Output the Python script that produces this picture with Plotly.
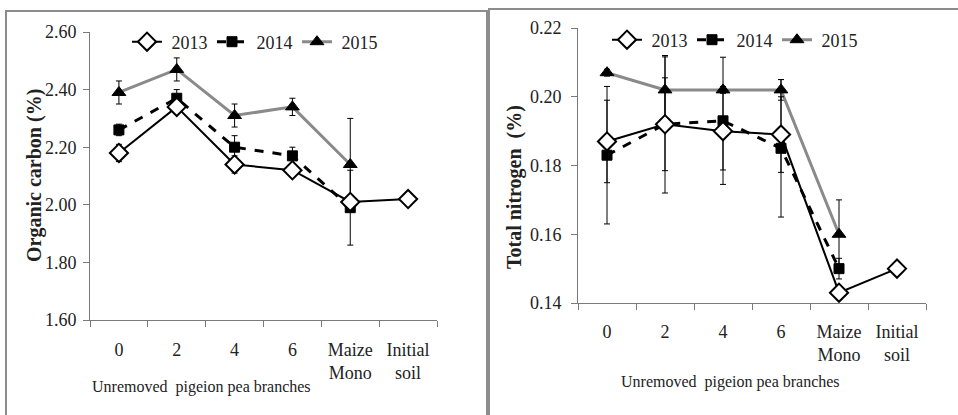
import plotly.graph_objects as go

categories = ["0", "2", "4", "6", "Maize<br>Mono", "Initial<br>soil"]
years = ["2013", "2014", "2015"]

# Organic carbon (%)
oc_2013 = [2.18, 2.34, 2.14, 2.12, 2.01, 2.02]
oc_2013_err = [0.03, 0.02, 0.03, 0.02, 0.02, 0.0]
oc_2014 = [2.26, 2.37, 2.20, 2.17, 1.99]
oc_2014_err = [0.02, 0.03, 0.04, 0.03, 0.13]
oc_2015 = [2.39, 2.47, 2.31, 2.34, 2.14]
oc_2015_err = [0.04, 0.04, 0.04, 0.03, 0.16]

# Total nitrogen (%)
tn_2013 = [0.187, 0.192, 0.190, 0.189, 0.143, 0.150]
tn_2013_err = [0.012, 0.0135, 0.0113, 0.011, 0.002, 0.0]
tn_2014 = [0.183, 0.192, 0.193, 0.185, 0.150]
tn_2014_err = [0.020, 0.020, 0.0185, 0.020, 0.003]
tn_2015 = [0.207, 0.202, 0.202, 0.202, 0.160]
tn_2015_err = [0.001, 0.0096, 0.001, 0.003, 0.010]

W, H = 958, 415
FONT = "Liberation Serif, Tinos, Times New Roman, Times, DejaVu Serif, serif"

def px(x):
    return x / W

def py(y):
    return 1 - y / H

styles = {
    "2013": dict(line=dict(color="black", width=2, dash="solid"),
                 marker=dict(symbol="diamond", size=14, color="white",
                             line=dict(color="black", width=2))),
    "2014": dict(line=dict(color="black", width=3, dash="dash"),
                 marker=dict(symbol="square", size=10, color="black",
                             line=dict(color="black", width=1))),
    "2015": dict(line=dict(color="#8a8a8a", width=3, dash="solid"),
                 marker=dict(symbol="triangle-up", size=12, color="black",
                             line=dict(color="black", width=1))),
}

fig = go.Figure()

def add(y, err, name, xa, ya, legend):
    st = styles[name]
    fig.add_trace(go.Scatter(
        x=categories[:len(y)], y=y, name="\u00a0" + name, mode="lines+markers",
        line=st["line"], marker=st["marker"],
        error_y=dict(type="data", array=err, visible=True, color="black",
                     thickness=1, width=3),
        xaxis=xa, yaxis=ya, legend=legend, cliponaxis=False))

add(oc_2015, oc_2015_err, "2015", "x", "y", "legend")
add(oc_2014, oc_2014_err, "2014", "x", "y", "legend")
add(oc_2013, oc_2013_err, "2013", "x", "y", "legend")
add(tn_2015, tn_2015_err, "2015", "x2", "y2", "legend2")
add(tn_2014, tn_2014_err, "2014", "x2", "y2", "legend2")
add(tn_2013, tn_2013_err, "2013", "x2", "y2", "legend2")

axis_line = dict(showline=True, linecolor="#7a7a7a", linewidth=1,
                 showgrid=False, zeroline=False, ticks="outside",
                 tickcolor="#7a7a7a", ticklen=6, automargin=False,
                 tickfont=dict(family=FONT, size=18, color="#222"))

leg_common = dict(orientation="h", xanchor="left", yanchor="middle",
                  traceorder="reversed",
                  font=dict(family=FONT, size=18, color="#222"),
                  bgcolor="rgba(0,0,0,0)", itemwidth=30,
                  entrywidth=40, entrywidthmode="pixels")

fig.update_layout(
    width=W, height=H, margin=dict(l=0, r=0, t=0, b=0, autoexpand=False),
    paper_bgcolor="white", plot_bgcolor="white",
    xaxis=dict(domain=[px(90), px(437)], anchor="y", type="category",
               categoryorder="array", categoryarray=categories,
               range=[-0.5, 5.5], tickson="boundaries",
               ticklabelstandoff=13, **axis_line),
    yaxis=dict(domain=[py(320), py(32)], anchor="x", range=[1.60, 2.60],
               tickvals=[1.6, 1.8, 2.0, 2.2, 2.4, 2.6], tickformat=".2f",
               ticklabelstandoff=3, **axis_line),
    xaxis2=dict(domain=[px(578), px(926)], anchor="y2", type="category",
                categoryorder="array", categoryarray=categories,
                range=[-0.5, 5.5], tickson="boundaries",
                ticklabelstandoff=12, **axis_line),
    yaxis2=dict(domain=[py(303), py(28)], anchor="x2", range=[0.14, 0.22],
                tickvals=[0.14, 0.16, 0.18, 0.20, 0.22], tickformat=".2f",
                ticklabelstandoff=6, **axis_line),
    legend=dict(x=px(127), y=py(42), **leg_common),
    legend2=dict(x=px(607), y=py(40), **leg_common),
    showlegend=True,
)

# panel frames
fig.add_shape(type="rect", xref="paper", yref="paper",
              x0=px(6), x1=px(487), y0=py(430), y1=py(11),
              line=dict(color="#8c8c8c", width=2))
fig.add_shape(type="rect", xref="paper", yref="paper",
              x0=px(489), x1=px(975), y0=py(430), y1=py(9),
              line=dict(color="#8c8c8c", width=2))

ann_font = dict(family=FONT, size=16, color="#222")
fig.add_annotation(text="Unremoved  pigeion pea branches", xref="paper", yref="paper",
                   x=px(201), y=py(387), showarrow=False, font=ann_font,
                   xanchor="center", yanchor="middle")
fig.add_annotation(text="Unremoved  pigeion pea branches", xref="paper", yref="paper",
                   x=px(730), y=py(382), showarrow=False, font=ann_font,
                   xanchor="center", yanchor="middle")
fig.add_annotation(text="<b>Organic carbon (%)</b>", xref="paper", yref="paper",
                   x=px(34), y=py(176), showarrow=False, textangle=-90,
                   font=dict(family=FONT, size=20, color="#222"),
                   xanchor="center", yanchor="middle")
fig.add_annotation(text="<b>Total nitrogen  (%)</b>", xref="paper", yref="paper",
                   x=px(515), y=py(187), showarrow=False, textangle=-90,
                   font=dict(family=FONT, size=20, color="#222"),
                   xanchor="center", yanchor="middle")

post = ("document.body.style.margin='0';document.body.style.padding='0';"
        "document.body.style.overflow='hidden';"
        "var d=document.getElementById('{plot_id}');"
        "d.style.position='absolute';d.style.left='0px';d.style.top='0px';")

fig.write_html("out.html", post_script=post, config={"displayModeBar": False})
